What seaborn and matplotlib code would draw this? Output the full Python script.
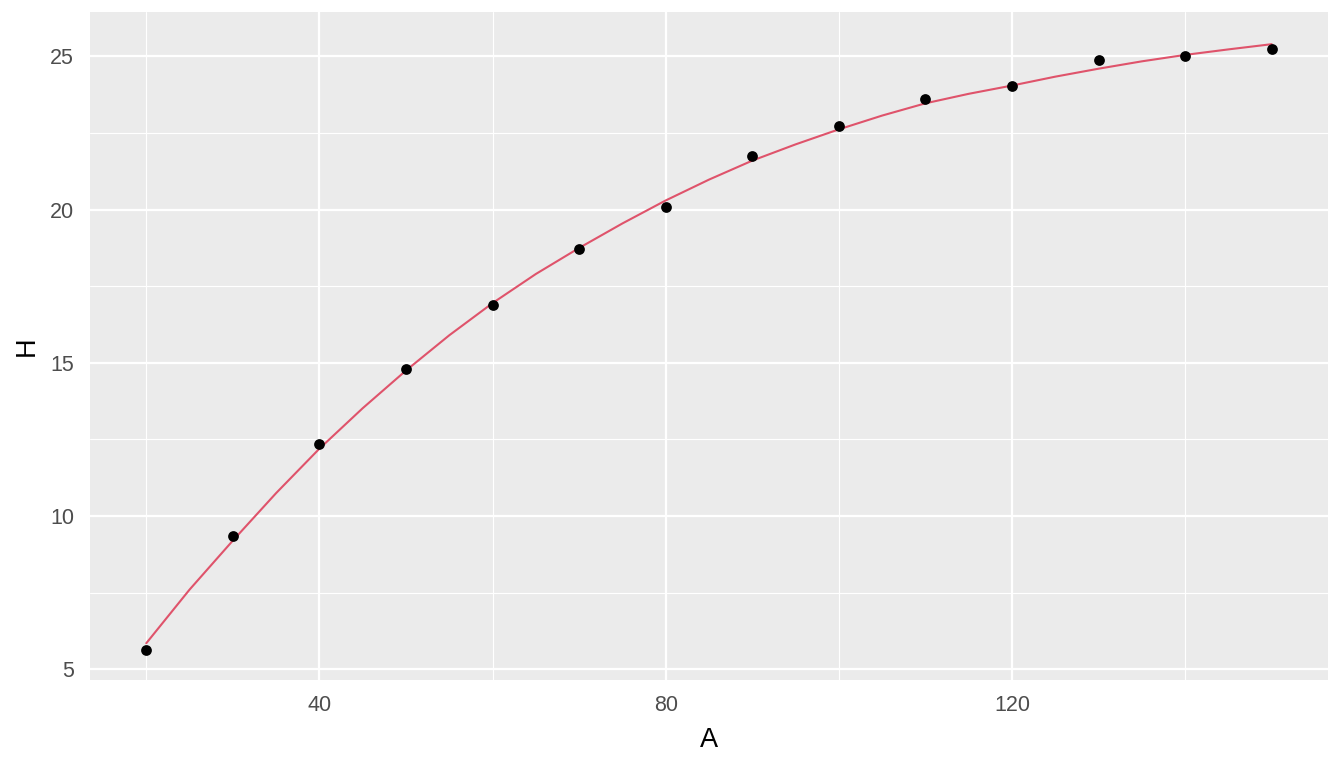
import numpy as np
import pandas as pd
import matplotlib
matplotlib.use("Agg")
import matplotlib.pyplot as plt
import seaborn as sns
from matplotlib.ticker import FixedLocator

# Observed data
age = [20, 30, 40, 50, 60, 70, 80, 90, 100, 110, 120, 130, 140, 150]
height = [5.63, 9.34, 12.34, 14.79, 16.88, 18.70, 20.07, 21.74, 22.72, 23.60, 24.05, 24.87, 25.03, 25.23]

# Fitted curve
fit_age = [20, 25, 30, 35, 40, 45, 50, 55, 60, 65, 70, 75, 80, 85, 90, 95, 100,
           105, 110, 115, 120, 125, 130, 135, 140, 145, 150]
fit_height = [5.85, 7.60, 9.20, 10.75, 12.20, 13.52, 14.75, 15.90, 16.95, 17.90, 18.75,
              19.55, 20.30, 20.98, 21.60, 22.13, 22.62, 23.07, 23.47, 23.78, 24.05,
              24.34, 24.60, 24.84, 25.05, 25.23, 25.40]

x_major = [40, 80, 120]
x_minor = [20, 60, 100, 140]
y_major = [5, 10, 15, 20, 25]
y_minor = [7.5, 12.5, 17.5, 22.5]

obs = pd.DataFrame({"A": age, "H": height})
fit = pd.DataFrame({"A": fit_age, "H": fit_height})

sns.set_theme(style="darkgrid")
plt.rcParams["font.family"] = ["Liberation Sans", "DejaVu Sans"]

fig = plt.figure(figsize=(13.44, 7.68), dpi=100)
ax = fig.add_axes([90 / 1344, 88 / 768, (1328 - 90) / 1344, (680 - 12) / 768])
ax.set_facecolor("#EBEBEB")

sns.lineplot(data=fit, x="A", y="H", ax=ax, color="#DF536B", linewidth=1.5, zorder=3)
sns.scatterplot(data=obs, x="A", y="H", ax=ax, color="black", s=60, edgecolor="black",
                linewidth=0, zorder=4)

ax.set_xlim(13.5, 156.5)
ax.set_ylim(4.65, 26.45)
ax.xaxis.set_major_locator(FixedLocator(x_major))
ax.xaxis.set_minor_locator(FixedLocator(x_minor))
ax.yaxis.set_major_locator(FixedLocator(y_major))
ax.yaxis.set_minor_locator(FixedLocator(y_minor))
ax.set_xticklabels([str(v) for v in x_major])
ax.set_yticklabels([str(v) for v in y_major])

ax.grid(which="major", color="white", linewidth=1.6)
ax.grid(which="minor", color="white", linewidth=0.8)
ax.set_axisbelow(True)
for s in ax.spines.values():
    s.set_visible(False)

ax.tick_params(axis="both", which="major", length=3.8, width=1.1, color="#333333",
               labelsize=15.5, labelcolor="#4D4D4D")
ax.tick_params(axis="x", which="major", pad=7)
ax.tick_params(axis="y", which="major", pad=7.8)
ax.tick_params(axis="both", which="minor", length=0)

ax.set_xlabel("A", fontsize=19.5, color="black", labelpad=7.6)
ax.set_ylabel("H", fontsize=19.5, color="black", labelpad=7.5)

fig.savefig("out.png", dpi=100, facecolor="white")
